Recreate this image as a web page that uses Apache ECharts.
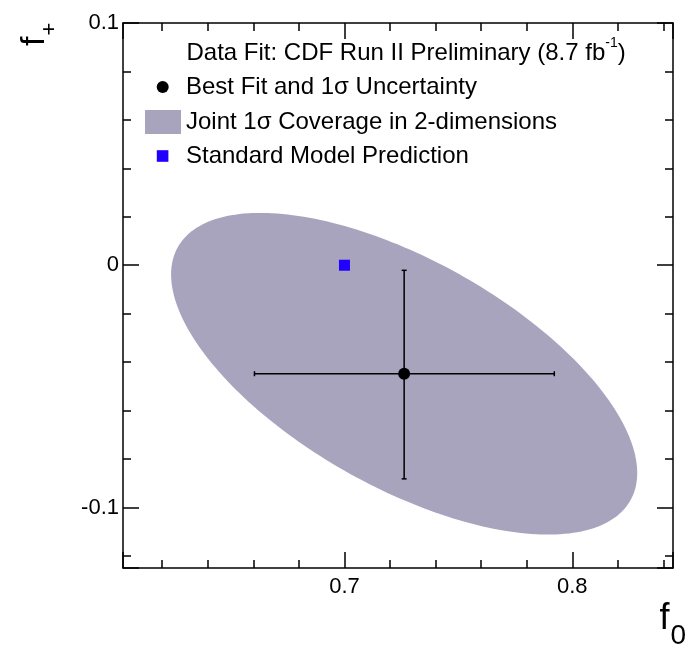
<!DOCTYPE html>
<html>
<head>
<meta charset="utf-8">
<style>
  html, body { margin: 0; padding: 0; background: #fff; }
  #chart { width: 692px; height: 650px; }
</style>
<script src="https://cdn.jsdelivr.net/npm/echarts@6/dist/echarts.min.js"></script>
</head>
<body>
<div id="chart"></div>
<script>
// ---- data ----
const X_MIN = 0.6028, X_MAX = 0.8442;
const Y_MIN = -0.125, Y_MAX = 0.1;
const xTickLabels = ['0.7', '0.8'];
const yTickLabels = ['0.1', '0', '-0.1'];

const headerText = 'Data Fit: CDF Run II Preliminary (8.7 fb{sup|-1})';
const seriesNames = ['Best Fit and 1σ Uncertainty', 'Joint 1σ Coverage in 2-dimensions', 'Standard Model Prediction'];

// best fit point [f0, f+] and 1-sigma intervals
const bestFit = [0.7262, -0.0448];
const bestFitF0Range = [0.6605, 0.7921];
const bestFitFplusRange = [-0.0882, -0.0021];

// standard model prediction [f0, f+]
const smPrediction = [0.700, 0.000];

// joint 1-sigma ellipse: center, half extents along f0 / f+, correlation
const ellipseCenter = [0.7262, -0.0448];
const ellipseHalfExtent = [0.1023, 0.0664];
const ellipseCorrelation = -0.617;

// ---- chart ----
const FONT = '"Liberation Sans", Arial, Helvetica, sans-serif';
const BLACK = '#000';
const ELLIPSE_COLOR = '#a9a4be';
const SM_COLOR = '#2200ff';

const gridRect = { left: 123, right: 19, top: 23, bottom: 82 };

function fmt(labels) {
  return function (v) {
    const s = String(Math.round(v * 1000) / 1000);
    return labels.indexOf(s) >= 0 ? s : '';
  };
}

const lineStyle = { color: BLACK, width: 1.5 };

function xAx(grid, position, interval, tickLen, showLine, showLabel) {
  return {
    type: 'value', gridIndex: grid, position: position,
    min: X_MIN, max: X_MAX,
    splitNumber: Math.round((X_MAX - X_MIN) / interval),
    minInterval: interval, maxInterval: interval,
    axisLine: { show: showLine, onZero: false, lineStyle: lineStyle },
    axisTick: { show: true, inside: true, length: tickLen, lineStyle: lineStyle },
    axisLabel: showLabel ? { show: true, margin: 8, fontSize: 22, fontFamily: FONT, color: BLACK, formatter: fmt(xTickLabels) } : { show: false },
    splitLine: { show: false }
  };
}
function yAx(grid, position, interval, tickLen, showLine, showLabel) {
  return {
    type: 'value', gridIndex: grid, position: position,
    min: Y_MIN, max: Y_MAX,
    splitNumber: Math.round((Y_MAX - Y_MIN) / interval),
    minInterval: interval, maxInterval: interval,
    axisLine: { show: showLine, onZero: false, lineStyle: lineStyle },
    axisTick: { show: true, inside: true, length: tickLen, lineStyle: lineStyle },
    axisLabel: showLabel ? { show: true, margin: 4, fontSize: 22, fontFamily: FONT, color: BLACK, formatter: fmt(yTickLabels) } : { show: false },
    splitLine: { show: false }
  };
}

const chart = echarts.init(document.getElementById('chart'), null, { renderer: 'canvas' });

const legendText = { fontSize: 24, fontFamily: FONT, color: BLACK };

const option = {
  animation: false,
  backgroundColor: '#fff',
  grid: [
    Object.assign({}, gridRect),
    Object.assign({}, gridRect)
  ],
  xAxis: [
    xAx(0, 'bottom', 0.1, 16, true, true),
    xAx(0, 'top', 0.1, 16, true, false),
    xAx(1, 'bottom', 0.02, 8, false, false),
    xAx(1, 'top', 0.02, 8, false, false)
  ],
  yAxis: [
    yAx(0, 'left', 0.1, 16, true, true),
    yAx(0, 'right', 0.1, 16, true, false),
    yAx(1, 'left', 0.02, 8, false, false),
    yAx(1, 'right', 0.02, 8, false, false)
  ],
  title: {
    text: headerText,
    left: 186.5, top: 35.7, padding: 0,
    textStyle: {
      fontSize: 24, fontFamily: FONT, color: BLACK, fontWeight: 'normal', lineHeight: 36,
      rich: { sup: { fontSize: 14, lineHeight: 14, verticalAlign: 'top', fontFamily: FONT, color: BLACK } }
    }
  },
  legend: [
    { data: [{ name: seriesNames[0], icon: 'circle' }], left: 156.7, top: 75, padding: 0,
      itemWidth: 36.6, itemHeight: 12, selectedMode: false, textStyle: legendText },
    { data: [{ name: seriesNames[1], icon: 'rect' }], left: 145, top: 110, padding: 0,
      itemWidth: 36, itemHeight: 24, selectedMode: false, textStyle: legendText },
    { data: [{ name: seriesNames[2], icon: 'square' }], left: 156.8, top: 144, padding: 0,
      itemWidth: 24.2, itemHeight: 11.6, selectedMode: false, textStyle: legendText }
  ],
  series: [
    {
      name: seriesNames[1],
      type: 'custom',
      xAxisIndex: 0, yAxisIndex: 0,
      itemStyle: { color: ELLIPSE_COLOR, opacity: 1 },
      encode: { x: 0, y: 1 },
      data: [[ellipseCenter[0], ellipseCenter[1], ellipseHalfExtent[0], ellipseHalfExtent[1], ellipseCorrelation]],
      renderItem: function (params, api) {
        const cx = api.value(0), cy = api.value(1), sx = api.value(2), sy = api.value(3), r = api.value(4);
        const q = Math.sqrt(1 - r * r);
        const pts = [];
        const N = 240;
        for (let i = 0; i < N; i++) {
          const t = 2 * Math.PI * i / N;
          pts.push(api.coord([cx + sx * Math.cos(t), cy + sy * (r * Math.cos(t) + q * Math.sin(t))]));
        }
        return { type: 'polygon', shape: { points: pts }, style: { fill: ELLIPSE_COLOR }, z2: 0 };
      },
      z: 1
    },
    {
      name: 'errorbars',
      type: 'custom',
      xAxisIndex: 0, yAxisIndex: 0,
      encode: { x: [0, 2, 3], y: [1, 4, 5] },
      data: [[bestFit[0], bestFit[1], bestFitF0Range[0], bestFitF0Range[1], bestFitFplusRange[0], bestFitFplusRange[1]]],
      renderItem: function (params, api) {
        const x = api.value(0), y = api.value(1);
        const l = api.coord([api.value(2), y]);
        const rr = api.coord([api.value(3), y]);
        const b = api.coord([x, api.value(4)]);
        const t = api.coord([x, api.value(5)]);
        const cap = 2.5;
        const st = { stroke: BLACK, lineWidth: 1.5 };
        const ln = (x1, y1, x2, y2) => ({ type: 'line', shape: { x1: x1, y1: y1, x2: x2, y2: y2 }, style: st });
        return {
          type: 'group',
          children: [
            ln(l[0], l[1], rr[0], rr[1]),
            ln(t[0], t[1], b[0], b[1]),
            ln(l[0], l[1] - cap, l[0], l[1] + cap),
            ln(rr[0], rr[1] - cap, rr[0], rr[1] + cap),
            ln(t[0] - cap, t[1], t[0] + cap, t[1]),
            ln(b[0] - cap, b[1], b[0] + cap, b[1])
          ]
        };
      },
      z: 2
    },
    {
      name: seriesNames[0],
      type: 'scatter',
      xAxisIndex: 0, yAxisIndex: 0,
      symbol: 'circle', symbolSize: 12,
      itemStyle: { color: BLACK, opacity: 1 },
      data: [bestFit],
      z: 3
    },
    {
      name: seriesNames[2],
      type: 'scatter',
      xAxisIndex: 0, yAxisIndex: 0,
      symbol: 'rect', symbolSize: 11,
      itemStyle: { color: SM_COLOR, opacity: 1 },
      data: [smPrediction],
      z: 3
    }
  ],
  graphic: [
    { type: 'text', x: 659.5, y: 618.8, style: { text: 'f', font: '36px ' + FONT, fill: BLACK, align: 'left', verticalAlign: 'middle' } },
    { type: 'text', x: 670.5, y: 636.7, style: { text: '0', font: '28px ' + FONT, fill: BLACK, align: 'left', verticalAlign: 'middle' } },
    { type: 'text', x: 34.5, y: 46, rotation: Math.PI / 2, style: { text: 'f', font: '34px ' + FONT, fill: BLACK, align: 'left', verticalAlign: 'middle' } },
    { type: 'text', x: 49.7, y: 29.2, rotation: Math.PI / 2, style: { text: '+', font: '22px ' + FONT, fill: BLACK, align: 'center', verticalAlign: 'middle' } }
  ]
};

chart.setOption(option);
</script>
</body>
</html>
